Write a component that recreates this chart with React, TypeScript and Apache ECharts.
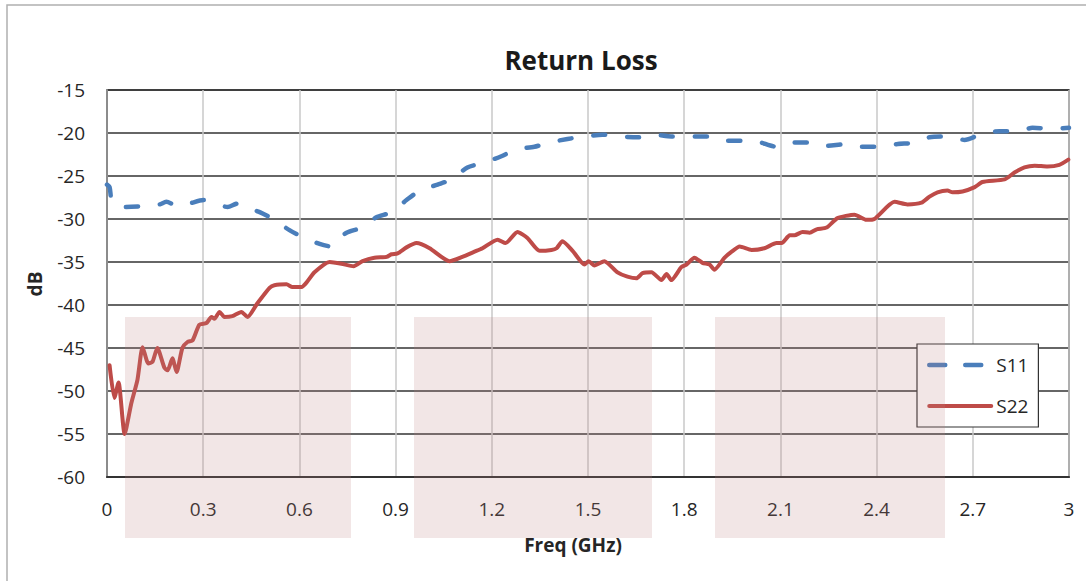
import React, { useEffect, useRef } from "react";
import * as echarts from "echarts";

const xTicks = [0, 0.3, 0.6, 0.9, 1.2, 1.5, 1.8, 2.1, 2.4, 2.7, 3];
const yTicks = [-60, -55, -50, -45, -40, -35, -30, -25, -20, -15];

const s11Freq = [0, 0.008, 0.017, 0.055, 0.117, 0.164, 0.185, 0.22, 0.257, 0.301, 0.335, 0.376, 0.407, 0.429, 0.476, 0.522, 0.569, 0.616, 0.663, 0.7, 0.71, 0.747, 0.794, 0.84, 0.887, 0.934, 0.975, 1.031, 1.074, 1.124, 1.171, 1.23, 1.277, 1.333, 1.38, 1.436, 1.489, 1.545, 1.598, 1.654, 1.704, 1.76, 1.816, 1.873, 1.92, 1.979, 2.029, 2.088, 2.135, 2.197, 2.244, 2.303, 2.353, 2.412, 2.462, 2.524, 2.565, 2.627, 2.674, 2.73, 2.783, 2.839, 2.886, 2.948, 3.0];
const s11Db = [-26.0, -26.3, -28.1, -28.6, -28.5, -28.3, -28.0, -28.5, -28.2, -27.8, -28.2, -28.6, -28.2, -28.6, -29.2, -30.1, -31.3, -32.2, -32.9, -33.2, -32.6, -31.6, -31.0, -29.8, -29.2, -27.8, -26.7, -26.0, -25.4, -24.0, -23.5, -22.7, -21.9, -21.6, -21.1, -20.7, -20.4, -20.2, -20.4, -20.5, -20.2, -20.4, -20.4, -20.4, -20.9, -20.9, -21.0, -21.6, -21.1, -21.1, -21.5, -21.3, -21.6, -21.6, -21.3, -21.1, -20.5, -20.4, -20.8, -20.1, -19.8, -19.8, -19.4, -19.5, -19.4];

const s22Freq = [0.008, 0.023, 0.036, 0.055, 0.076, 0.095, 0.111, 0.129, 0.142, 0.157, 0.179, 0.189, 0.204, 0.217, 0.235, 0.251, 0.267, 0.288, 0.31, 0.326, 0.335, 0.351, 0.366, 0.391, 0.419, 0.438, 0.469, 0.507, 0.522, 0.56, 0.578, 0.607, 0.622, 0.647, 0.694, 0.731, 0.769, 0.797, 0.834, 0.872, 0.887, 0.906, 0.934, 0.965, 1.006, 1.068, 1.108, 1.146, 1.171, 1.218, 1.243, 1.28, 1.311, 1.349, 1.386, 1.402, 1.42, 1.452, 1.489, 1.502, 1.52, 1.551, 1.592, 1.623, 1.651, 1.67, 1.698, 1.729, 1.745, 1.76, 1.791, 1.807, 1.832, 1.857, 1.879, 1.894, 1.926, 1.948, 1.973, 2.01, 2.05, 2.088, 2.104, 2.129, 2.144, 2.169, 2.191, 2.213, 2.244, 2.278, 2.331, 2.368, 2.393, 2.456, 2.496, 2.54, 2.565, 2.59, 2.621, 2.637, 2.668, 2.706, 2.73, 2.799, 2.83, 2.861, 2.893, 2.933, 2.97, 2.998];
const s22Db = [-47.0, -50.8, -49.0, -55.0, -51.4, -48.7, -44.9, -46.8, -46.6, -45.0, -47.3, -47.6, -46.2, -47.8, -45.0, -44.3, -44.1, -42.3, -42.1, -41.4, -41.6, -40.8, -41.4, -41.3, -40.8, -41.4, -39.8, -38.0, -37.7, -37.6, -37.9, -37.9, -37.4, -36.2, -35.0, -35.2, -35.5, -34.9, -34.5, -34.4, -34.1, -34.0, -33.3, -32.8, -33.4, -34.9, -34.4, -33.8, -33.4, -32.4, -32.8, -31.5, -32.2, -33.7, -33.6, -33.4, -32.6, -33.7, -35.3, -34.9, -35.4, -34.9, -36.2, -36.7, -36.9, -36.3, -36.2, -37.1, -36.4, -37.1, -35.6, -35.3, -34.5, -35.1, -35.3, -35.9, -34.5, -33.8, -33.2, -33.6, -33.4, -32.8, -32.8, -31.9, -31.9, -31.5, -31.6, -31.2, -31.0, -29.9, -29.5, -30.1, -30.0, -28.0, -28.3, -28.1, -27.4, -26.9, -26.7, -26.9, -26.8, -26.3, -25.7, -25.4, -24.6, -24.0, -23.8, -23.9, -23.7, -23.1];

const FONT = "'Open Sans', 'Noto Sans', sans-serif";
const TXT = "#262626";

export default function App() {
  const ref = useRef<HTMLDivElement>(null);
  useEffect(() => {
    if (!ref.current) return;
    const chart = echarts.init(ref.current, undefined, { renderer: "svg" });
    const s11 = s11Freq.map((f, i) => [f, s11Db[i]]);
    const s22 = s22Freq.map((f, i) => [f, s22Db[i]]);
    const shade = "rgba(190,130,130,0.2)";
    chart.setOption({
      animation: false,
      backgroundColor: "#fff",
      textStyle: { fontFamily: FONT },
      grid: {
        left: 107,
        top: 90,
        right: 17,
        bottom: 104,
        show: true,
        borderColor: "#333",
        borderWidth: 1.5,
        backgroundColor: "transparent",
      },
      xAxis: {
        type: "value",
        min: xTicks[0],
        max: xTicks[xTicks.length - 1],
        interval: 0.3,
        axisLine: { show: true, onZero: false, lineStyle: { color: "#333", width: 2 } },
        axisTick: { show: false },
        axisLabel: {
          margin: 22,
          fontSize: 19,
          color: TXT,
          fontFamily: FONT,
          formatter: (v: number) => String(+v.toFixed(1)),
        },
        splitLine: { show: true, lineStyle: { color: "#c8c8c8", width: 1.5 } },
      },
      yAxis: {
        type: "value",
        min: yTicks[0],
        max: yTicks[yTicks.length - 1],
        interval: 5,
        axisLine: { show: true, lineStyle: { color: "#8c8c8c", width: 2 } },
        axisTick: { show: false },
        axisLabel: { margin: 22, fontSize: 19, color: TXT, fontFamily: FONT },
        splitLine: { show: true, lineStyle: { color: "#333", width: 1.5 } },
      },
      legend: {
        left: 917,
        top: 344,
        orient: "vertical",
        backgroundColor: "#fff",
        borderColor: "#333",
        borderWidth: 1.2,
        borderRadius: 0,
        padding: [11, 10, 11, 10],
        itemWidth: 62,
        itemHeight: 20,
        itemGap: 21,
        itemStyle: { opacity: 0 },
        textStyle: { fontSize: 19, color: TXT, fontFamily: FONT, lineHeight: 20 },
        data: [
          {
            name: "S11",
            itemStyle: { opacity: 0 },
            lineStyle: { type: [16, 20], cap: "round", width: 4.5, color: "#4A7EBB" },
          },
          {
            name: "S22",
            itemStyle: { opacity: 0 },
            lineStyle: { type: "solid", width: 4, color: "#BE4B48" },
          },
        ],
      },
      series: [
        {
          name: "S11",
          type: "line",
          data: s11,
          symbol: "none",
          smooth: 0.25,
          z: 3,
          lineStyle: { color: "#4A7EBB", width: 4.5, type: [12, 22], cap: "round" },
          itemStyle: { color: "#4A7EBB" },
        },
        {
          name: "S22",
          type: "line",
          data: s22,
          symbol: "none",
          smooth: 0.2,
          z: 4,
          lineStyle: { color: "#BE4B48", width: 4, cap: "round", join: "round" },
          itemStyle: { color: "#BE4B48" },
        },
      ],
      graphic: [
        {
          type: "rect",
          z: -10,
          silent: true,
          shape: { x: 7, y: 5, width: 1200, height: 700 },
          style: { fill: "transparent", stroke: "#b0b0b0", lineWidth: 1.5 },
        },
        {
          type: "text",
          x: 581,
          y: 60,
          style: {
            text: "Return Loss",
            fontFamily: FONT,
            fontSize: 26,
            fontWeight: "bold",
            fill: "#1a1a1a",
            align: "center",
            verticalAlign: "middle",
          },
        },
        {
          type: "text",
          x: 573,
          y: 545,
          style: {
            text: "Freq (GHz)",
            fontFamily: FONT,
            fontSize: 19,
            fontWeight: "bold",
            fill: TXT,
            align: "center",
            verticalAlign: "middle",
          },
        },
        {
          type: "text",
          x: 35,
          y: 284,
          rotation: Math.PI / 2,
          style: {
            text: "dB",
            fontFamily: FONT,
            fontSize: 19,
            fontWeight: "bold",
            fill: TXT,
            align: "center",
            verticalAlign: "middle",
          },
        },
        {
          type: "rect",
          z: 100,
          silent: true,
          shape: { x: 125, y: 317, width: 226, height: 221 },
          style: { fill: shade },
        },
        {
          type: "rect",
          z: 100,
          silent: true,
          shape: { x: 414, y: 317, width: 238, height: 221 },
          style: { fill: shade },
        },
        {
          type: "rect",
          z: 100,
          silent: true,
          shape: { x: 715, y: 317, width: 230, height: 221 },
          style: { fill: shade },
        },
      ],
    });
    return () => chart.dispose();
  }, []);
  return (
    <div
      ref={ref}
      style={{ position: "absolute", left: 0, top: 0, width: 1086, height: 581 }}
    />
  );
}
